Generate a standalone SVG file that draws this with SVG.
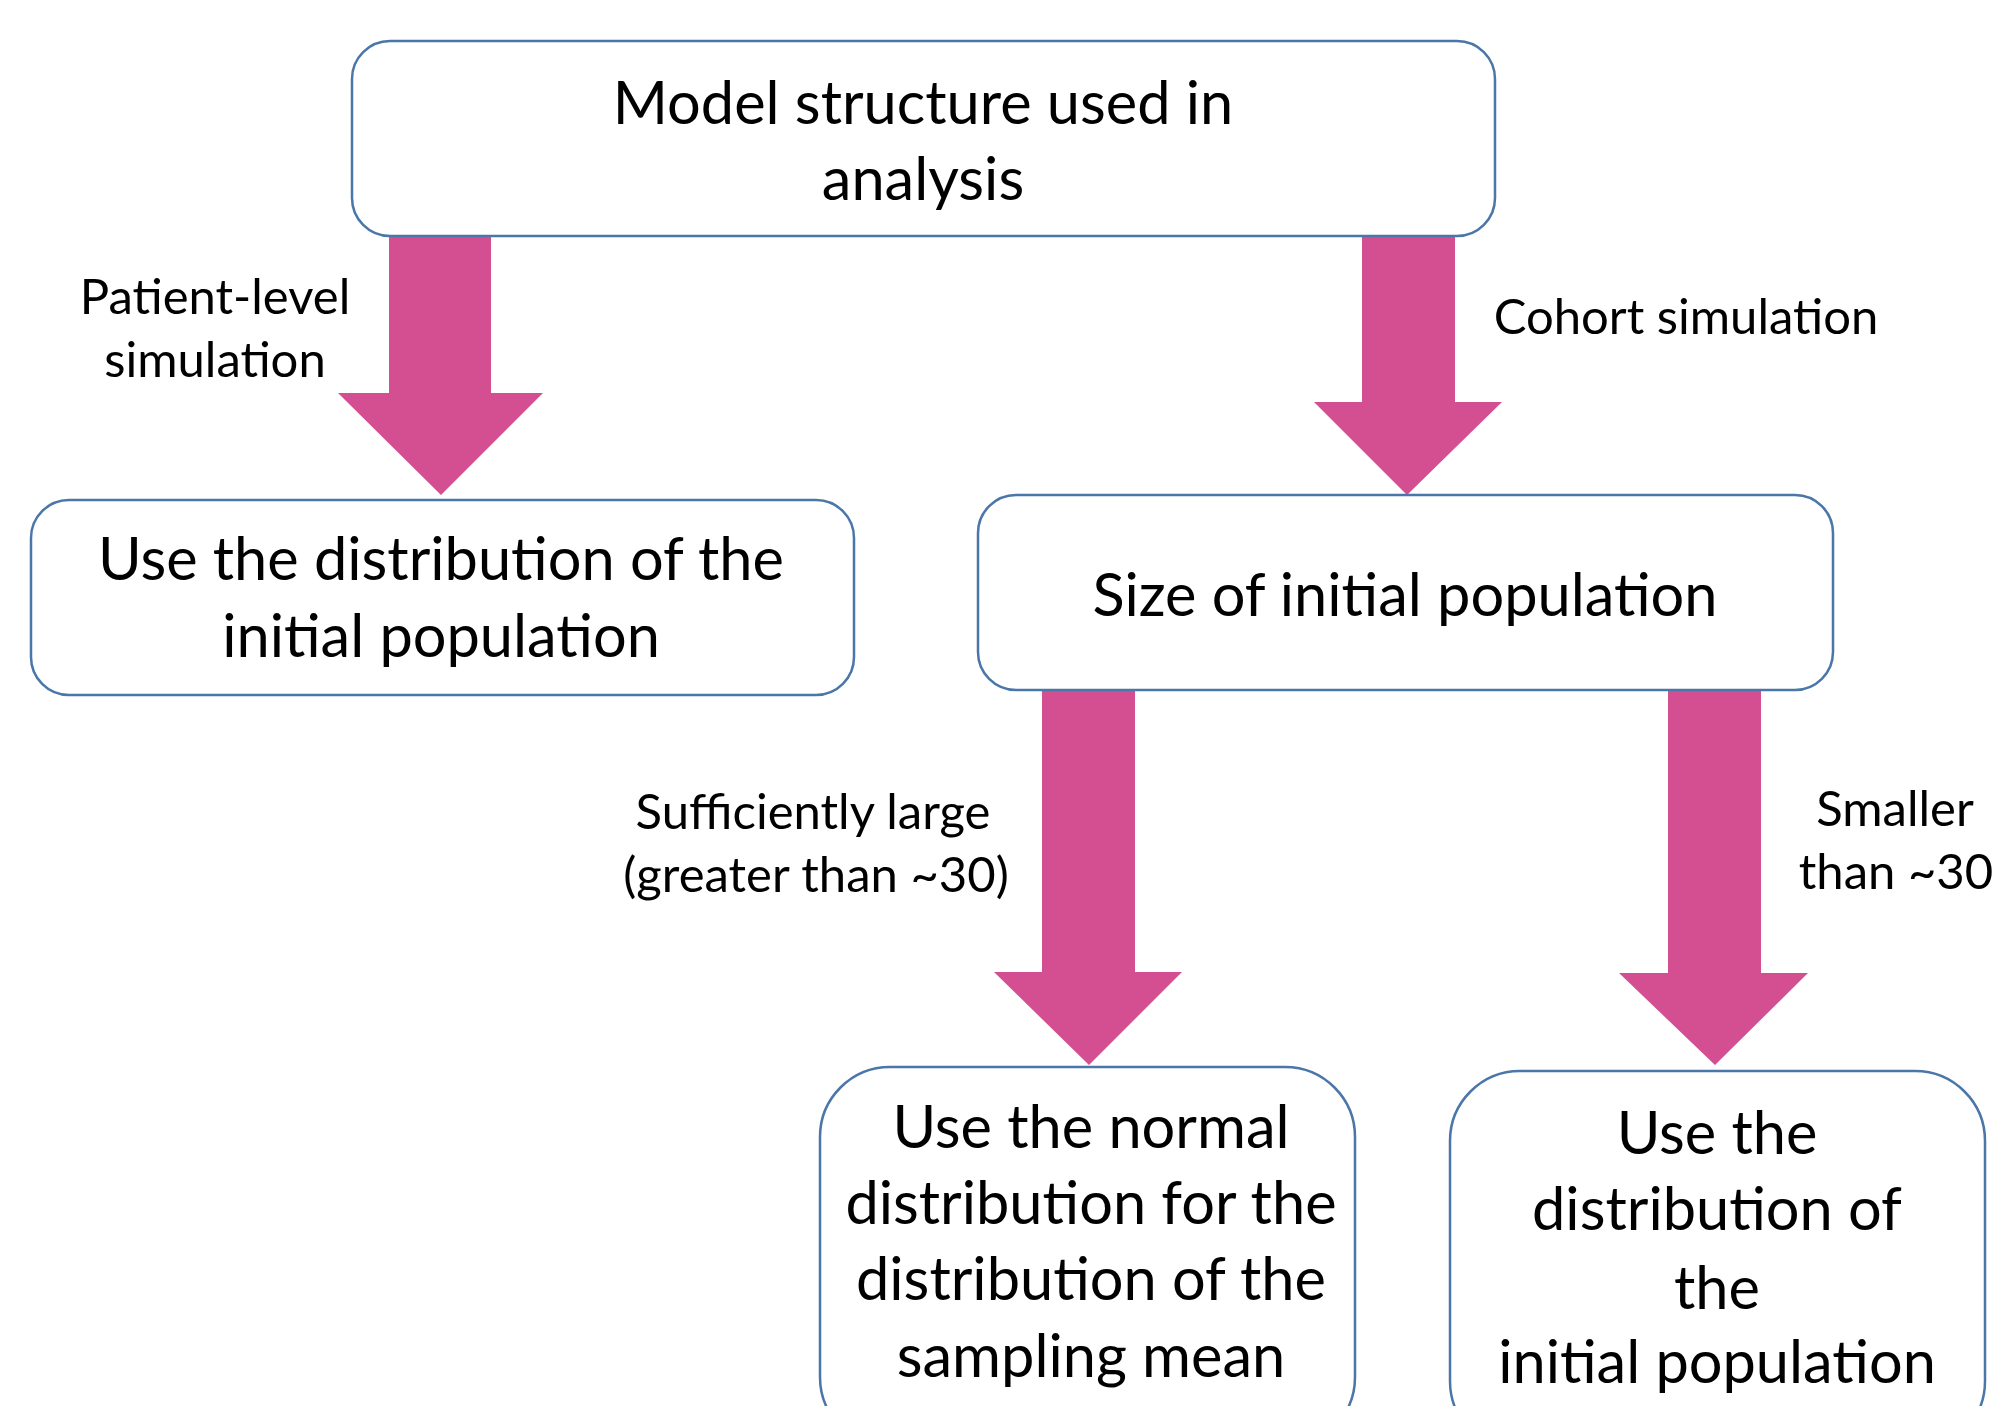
<svg xmlns="http://www.w3.org/2000/svg" width="1999" height="1406" viewBox="0 0 1999 1406">
<style>
.box{fill:#fff;stroke:#4a76a8;stroke-width:2.5}
.arr{fill:#d44f91}
.t{font-family:Lato,"Liberation Sans",sans-serif;font-size:59.5px;fill:#000;text-anchor:middle}
.l{font-family:Lato,"Liberation Sans",sans-serif;font-size:49px;fill:#000;text-anchor:middle}
</style>
<rect width="1999" height="1406" fill="#fff"/>
<g id="connectors">
<polygon class="arr" points="389,236 491,236 491,393 543,393 441,495 338,393 389,393"/>
<polygon class="arr" points="1362,233 1455,233 1455,402 1502,402 1407,495 1314,402 1362,402"/>
<polygon class="arr" points="1042,687 1135,687 1135,972 1182,972 1089,1065 994,972 1042,972"/>
<polygon class="arr" points="1668,690 1761,690 1761,973 1808,973 1715,1065 1619,973 1668,973"/>
<text class="l" x="215" y="314">Patient-level</text>
<text class="l" x="215" y="377">simulation</text>
<text class="l" x="1686" y="334">Cohort simulation</text>
<text class="l" x="813" y="829">Sufficiently large</text>
<text class="l" x="816" y="892">(greater than ~30)</text>
<text class="l" x="1895" y="826">Smaller</text>
<text class="l" x="1896" y="889">than ~30</text>
</g>
<g id="n_model">
<rect class="box" x="352" y="41" width="1143" height="195" rx="38"/>
<text class="t" x="923" y="124">Model structure used in</text>
<text class="t" x="923" y="200">analysis</text>
</g>
<g id="n_patient">
<rect class="box" x="31" y="500" width="823" height="195" rx="38"/>
<text class="t" x="441" y="580">Use the distribution of the</text>
<text class="t" x="441" y="657">initial population</text>
</g>
<g id="n_size">
<rect class="box" x="978" y="495" width="855" height="195" rx="38"/>
<text class="t" x="1405" y="616">Size of initial population</text>
</g>
<g id="n_normal">
<rect class="box" x="820" y="1067" width="535" height="380" rx="70"/>
<text class="t" x="1091" y="1148">Use the normal</text>
<text class="t" x="1091" y="1224">distribution for the</text>
<text class="t" x="1091" y="1300">distribution of the</text>
<text class="t" x="1091" y="1377">sampling mean</text>
</g>
<g id="n_initial">
<rect class="box" x="1450" y="1071" width="535" height="380" rx="70"/>
<text class="t" x="1717" y="1154">Use the</text>
<text class="t" x="1717" y="1230">distribution of</text>
<text class="t" x="1717" y="1309">the</text>
<text class="t" x="1717" y="1383">initial population</text>
</g>
</svg>
